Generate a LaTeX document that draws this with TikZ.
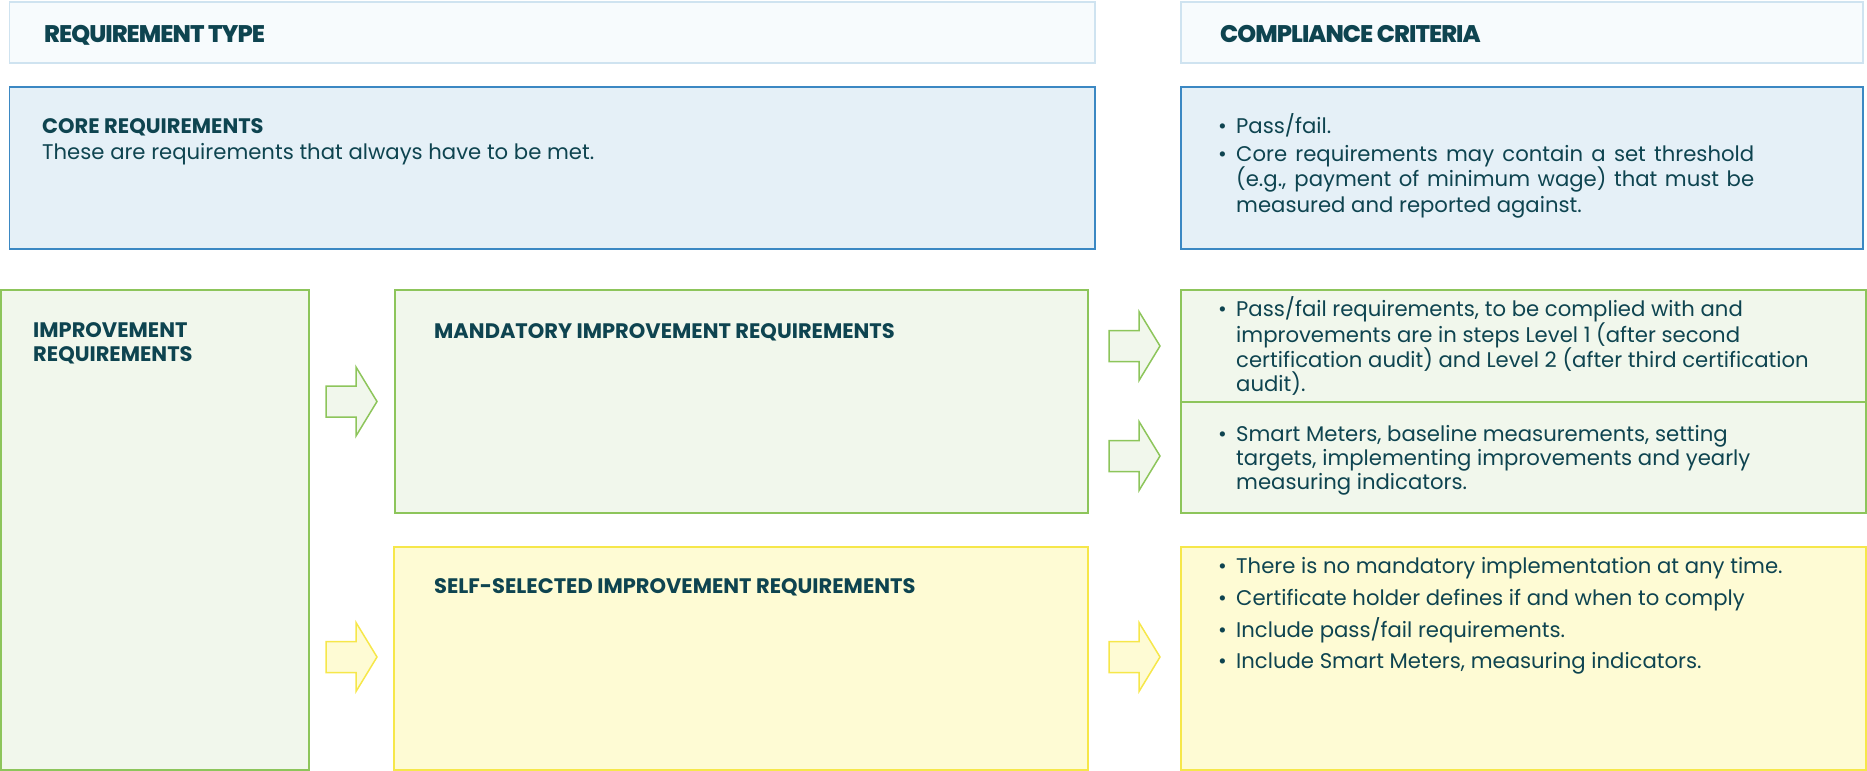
\documentclass[tikz,border=0pt]{standalone}
\usepackage{fontspec}
\setmainfont{Poppins}
\newfontfamily\hdrfont{Poppins ExtraBold}[LetterSpace=-4]
\definecolor{textc}{RGB}{14,68,80}
\definecolor{hdrfill}{RGB}{247,251,253}
\definecolor{hdrdraw}{RGB}{207,227,240}
\definecolor{corefill}{RGB}{229,240,247}
\definecolor{coredraw}{RGB}{59,136,195}
\definecolor{grnfill}{RGB}{241,247,236}
\definecolor{grndraw}{RGB}{141,197,91}
\definecolor{ylwfill}{RGB}{254,251,212}
\definecolor{ylwdraw}{RGB}{246,231,74}
\tikzset{
  hdrbox/.style={draw=hdrdraw,fill=hdrfill,line width=1.5bp},
  corebox/.style={draw=coredraw,fill=corefill,line width=1.5bp},
  grnbox/.style={draw=grndraw,fill=grnfill,line width=1.5bp},
  ylwbox/.style={draw=ylwdraw,fill=ylwfill,line width=1.5bp},
  hdr/.style={anchor=base west,inner sep=0pt,text=textc,font=\fontsize{24bp}{28bp}\hdrfont},
  ttl/.style={anchor=base west,inner sep=0pt,text=textc,font=\fontsize{21bp}{25bp}\selectfont\bfseries},
  txt/.style={anchor=base west,inner sep=0pt,text=textc,font=\fontsize{21.2bp}{25bp}\selectfont},
}
\newcommand{\bul}[4]{\node[txt] (#1b) at (1218,#3) {•}; \node[txt] (#1) at (1236,#3) {#4};}
\newcommand{\cont}[3]{\node[txt] (#1) at (1236,#2) {#3};}
\newcommand{\blockarrow}[4]{%
  \draw[#4] (#2,#3-15.5) -- (#2+30,#3-15.5) -- (#2+30,#3-34.5) -- (#2+51,#3)
    -- (#2+30,#3+34.5) -- (#2+30,#3+15.5) -- (#2,#3+15.5) -- cycle;
  \coordinate (#1) at (#2+25,#3);}
\begin{document}
\begin{tikzpicture}[x=1bp,y=-1bp]
\useasboundingbox (0,0) rectangle (1867,771);
% header row
\draw[hdrbox] (9.5,2) rectangle (1095,63);
\draw[hdrbox] (1181,2) rectangle (1863,63);
\node[hdr] (hl) at (44,43) {REQUIREMENT TYPE};
\node[hdr] (hr) at (1220,43) {COMPLIANCE CRITERIA};
% core requirements
\draw[corebox] (9.5,87) rectangle (1095,249);
\draw[corebox] (1181,87) rectangle (1863,249);
\node[ttl] (ct) at (42,133) {CORE REQUIREMENTS};
\node[txt] (cd) at (42,159) {These are requirements that always have to be met.};
\bul{c1}{}{133}{Pass/fail.}
\bul{c2}{}{161}{\makebox[518bp][s]{Core requirements may contain a set threshold}}
\cont{c3}{186}{\makebox[518bp][s]{(e.g., payment of minimum wage) that must be}}
\cont{c4}{212}{measured and reported against.}
% improvement requirements
\draw[grnbox] (1,290) rectangle (309,770);
\node[ttl] (i1) at (33,337) {IMPROVEMENT};
\node[ttl] (i2) at (33,361) {REQUIREMENTS};
\draw[grnbox] (395,290) rectangle (1088,513);
\node[ttl] (mt) at (434,338) {MANDATORY IMPROVEMENT REQUIREMENTS};
\draw[ylwbox] (394,547) rectangle (1088,770);
\node[ttl] (st) at (434,593) {SELF-SELECTED IMPROVEMENT REQUIREMENTS};
% compliance: mandatory
\draw[grnbox] (1181,290) rectangle (1866,513);
\draw[grndraw,line width=1.5bp] (1181,402) -- (1866,402);
\bul{g1}{}{316}{Pass/fail requirements, to be complied with and}
\cont{g2}{342}{improvements are in steps Level 1 (after second}
\cont{g3}{367}{certification audit) and Level 2 (after third certification}
\cont{g4}{391}{audit).}
\bul{h1}{}{441}{Smart Meters, baseline measurements, setting}
\cont{h2}{465}{targets, implementing improvements and yearly}
\cont{h3}{489}{measuring indicators.}
% compliance: self-selected
\draw[ylwbox] (1181,547) rectangle (1866,770);
\bul{y1}{}{573}{There is no mandatory implementation at any time.}
\bul{y2}{}{605}{Certificate holder defines if and when to comply}
\bul{y3}{}{637}{Include pass/fail requirements.}
\bul{y4}{}{668}{Include Smart Meters, measuring indicators.}
% block arrows
\blockarrow{a1}{326}{401.5}{grnbox}
\blockarrow{a2}{326}{657}{ylwbox}
\blockarrow{a3}{1109}{346}{grnbox}
\blockarrow{a4}{1109}{456}{grnbox}
\blockarrow{a5}{1109}{657}{ylwbox}
\end{tikzpicture}
\end{document}
